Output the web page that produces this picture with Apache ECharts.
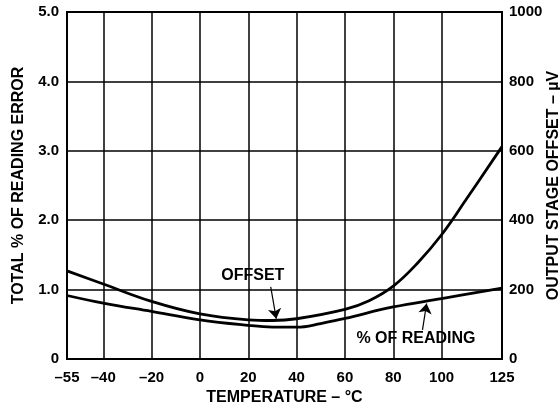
<!DOCTYPE html>
<html>
<head>
<meta charset="utf-8">
<script src="https://cdn.jsdelivr.net/npm/echarts@6/dist/echarts.min.js"></script>
<style>
  html, body { margin: 0; padding: 0; background: #fff; }
  #chart { width: 560px; height: 407px; }
</style>
</head>
<body>
<div id="chart"></div>
<script>
// temperature ticks (deg C)
var tempTicks = [-55, -40, -20, 0, 20, 40, 60, 80, 100, 125];

// output stage offset, uV (right axis)
var offsetTemp = [-55, -40, -20, 0, 20, 30, 40, 60, 70, 80, 90, 100, 110, 125];
var offsetUv = [254, 216, 166, 130, 113, 111, 116, 143, 168, 210, 276, 358, 458, 612];

// total % of reading error (left axis)
var readingTemp = [-55, -40, -20, 0, 20, 30, 40, 50, 60, 80, 100, 125];
var readingPct = [0.915, 0.805, 0.685, 0.565, 0.485, 0.46, 0.458, 0.51, 0.585, 0.75, 0.87, 1.02];

var font = "'Liberation Sans', Arial, sans-serif";

function pairs(xs, ys) {
  return xs.map(function (x, i) { return [x, ys[i]]; });
}

var tickStyle = { color: '#000', fontWeight: 'bold', fontSize: 15, fontFamily: font };
var nameStyle = { color: '#000', fontWeight: 'bold', fontSize: 16, fontFamily: font };

var chart = echarts.init(document.getElementById('chart'));
chart.setOption({
  animation: false,
  textStyle: { fontFamily: font },
  grid: {
    left: 67, right: 58, top: 12, bottom: 48,
    outerBoundsMode: 'none',
    containLabel: false,
    show: true, borderColor: '#000', borderWidth: 2
  },
  xAxis: {
    type: 'value',
    min: -55, max: 125,
    name: 'TEMPERATURE – °C',
    nameLocation: 'middle',
    nameGap: 30,
    nameTextStyle: nameStyle,
    axisLine: { show: false },
    axisTick: { show: false, customValues: tempTicks },
    axisLabel: Object.assign({
      customValues: tempTicks,
      margin: 11,
      formatter: function (v) { return v < 0 ? '–' + Math.abs(v) : '' + v; }
    }, tickStyle),
    splitLine: { show: true, lineStyle: { color: '#000', width: 1.5 } }
  },
  yAxis: [
    {
      type: 'value',
      min: 0, max: 5, interval: 1,
      name: 'TOTAL % OF READING ERROR',
      nameLocation: 'middle',
      nameRotate: 90,
      nameGap: 40,
      nameTextStyle: nameStyle,
      axisLine: { show: false },
      axisTick: { show: false },
      axisLabel: Object.assign({
        margin: 8,
        formatter: function (v) { return v === 0 ? '0' : v.toFixed(1); }
      }, tickStyle),
      splitLine: { show: true, lineStyle: { color: '#000', width: 1.5 } }
    },
    {
      type: 'value',
      min: 0, max: 1000, interval: 200,
      name: 'OUTPUT STAGE OFFSET – µV',
      nameLocation: 'middle',
      nameRotate: 90,
      nameGap: 44,
      nameMoveOverlap: false,
      nameTextStyle: nameStyle,
      axisLine: { show: false },
      axisTick: { show: false },
      axisLabel: Object.assign({
        margin: 7,
        formatter: function (v) { return '' + v; }
      }, tickStyle),
      splitLine: { show: false }
    }
  ],
  series: [
    {
      name: 'OFFSET',
      type: 'line',
      yAxisIndex: 1,
      smooth: 0.4,
      symbol: 'none',
      lineStyle: { color: '#000', width: 2.8 },
      data: pairs(offsetTemp, offsetUv),
      markLine: {
        silent: true,
        symbol: ['none', 'arrow'],
        symbolSize: 10,
        lineStyle: { color: '#000', width: 1.2, type: 'solid' },
        label: { show: false },
        data: [[{ coord: [29.3, 208] }, { coord: [31.6, 116] }]]
      },
      markPoint: {
        silent: true,
        symbol: 'circle',
        symbolSize: 0,
        label: Object.assign({ show: true, position: 'inside', formatter: 'OFFSET' }, nameStyle),
        data: [{ coord: [21.9, 239] }]
      }
    },
    {
      name: '% OF READING',
      type: 'line',
      yAxisIndex: 0,
      smooth: 0.4,
      symbol: 'none',
      lineStyle: { color: '#000', width: 2.8 },
      data: pairs(readingTemp, readingPct),
      markLine: {
        silent: true,
        symbol: ['none', 'arrow'],
        symbolSize: 10,
        lineStyle: { color: '#000', width: 1.2, type: 'solid' },
        label: { show: false },
        data: [[{ coord: [92.1, 0.42] }, { coord: [93.8, 0.8] }]]
      },
      markPoint: {
        silent: true,
        symbol: 'circle',
        symbolSize: 0,
        label: Object.assign({ show: true, position: 'inside', formatter: '% OF READING' }, nameStyle),
        data: [{ coord: [89.4, 0.29] }]
      }
    }
  ]
});
</script>
</body>
</html>
